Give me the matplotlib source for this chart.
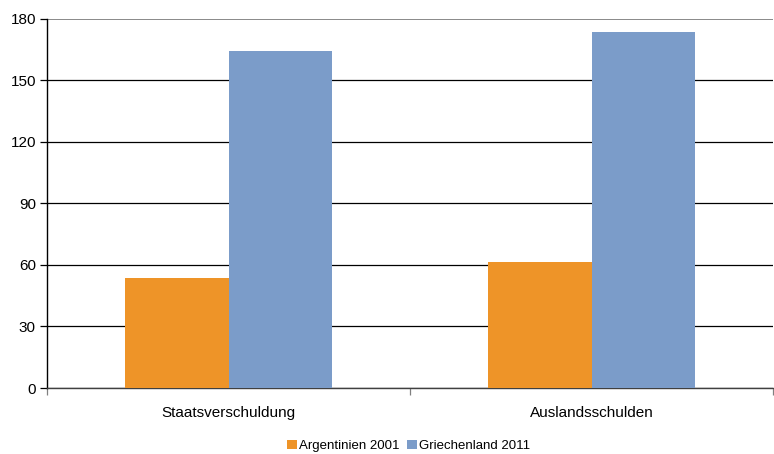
import matplotlib
matplotlib.use("Agg")
import matplotlib.pyplot as plt
import numpy as np

categories = ["Staatsverschuldung", "Auslandsschulden"]
series_names = ["Argentinien 2001", "Griechenland 2011"]
argentinien = [53.5, 61.5]
griechenland = [164.5, 173.5]
colors = ["#EE9428", "#7B9CC9"]
yticks = [0, 30, 60, 90, 120, 150, 180]

plt.rcParams['font.family'] = ['Liberation Sans', 'DejaVu Sans']

fig = plt.figure(figsize=(7.74, 4.54), dpi=100)
ax = fig.add_axes([47/774, 1-388/454, 726/774, (388-18.7)/454])

x = np.arange(len(categories))
w = 0.2865
ax.bar(x - w/2, argentinien, w, color=colors[0], label=series_names[0], zorder=3)
ax.bar(x + w/2, griechenland, w, color=colors[1], label=series_names[1], zorder=3)

ax.set_xlim(-0.5, len(categories) - 0.5)
ax.set_ylim(0, 180)
ax.set_yticks(yticks)
ax.set_yticklabels([str(v) for v in yticks], fontsize=11)
ax.yaxis.grid(True, color="#000000", linewidth=0.9, zorder=0)
gl = ax.yaxis.get_gridlines()
gl[-1].set_color("#808080")
gl[-1].set_linewidth(1.3)
ax.set_axisbelow(True)

ax.set_xticks(x)
ax.set_xticklabels(categories, fontsize=11)
ax.tick_params(axis='x', length=0, pad=13)
ax.set_xticks([-0.5, 0.5, 1.5], minor=True)
ax.tick_params(axis='x', which='minor', length=5, width=0.9, color="#808080", direction='out')
ax.tick_params(axis='y', length=5, width=0.9, direction='out', pad=3)

for s in ["top", "right"]:
    ax.spines[s].set_visible(False)
ax.spines["left"].set_linewidth(1.0)
ax.spines["bottom"].set_linewidth(1.0)
ax.spines["bottom"].set_color("#404040")

leg = fig.legend(loc="lower center", bbox_to_anchor=(0.528, -0.022), ncol=2, frameon=False,
                 fontsize=9.5, handlelength=0.75, handleheight=0.75, handletextpad=0.15,
                 columnspacing=0.6)

fig.savefig("out.png", dpi=100)
